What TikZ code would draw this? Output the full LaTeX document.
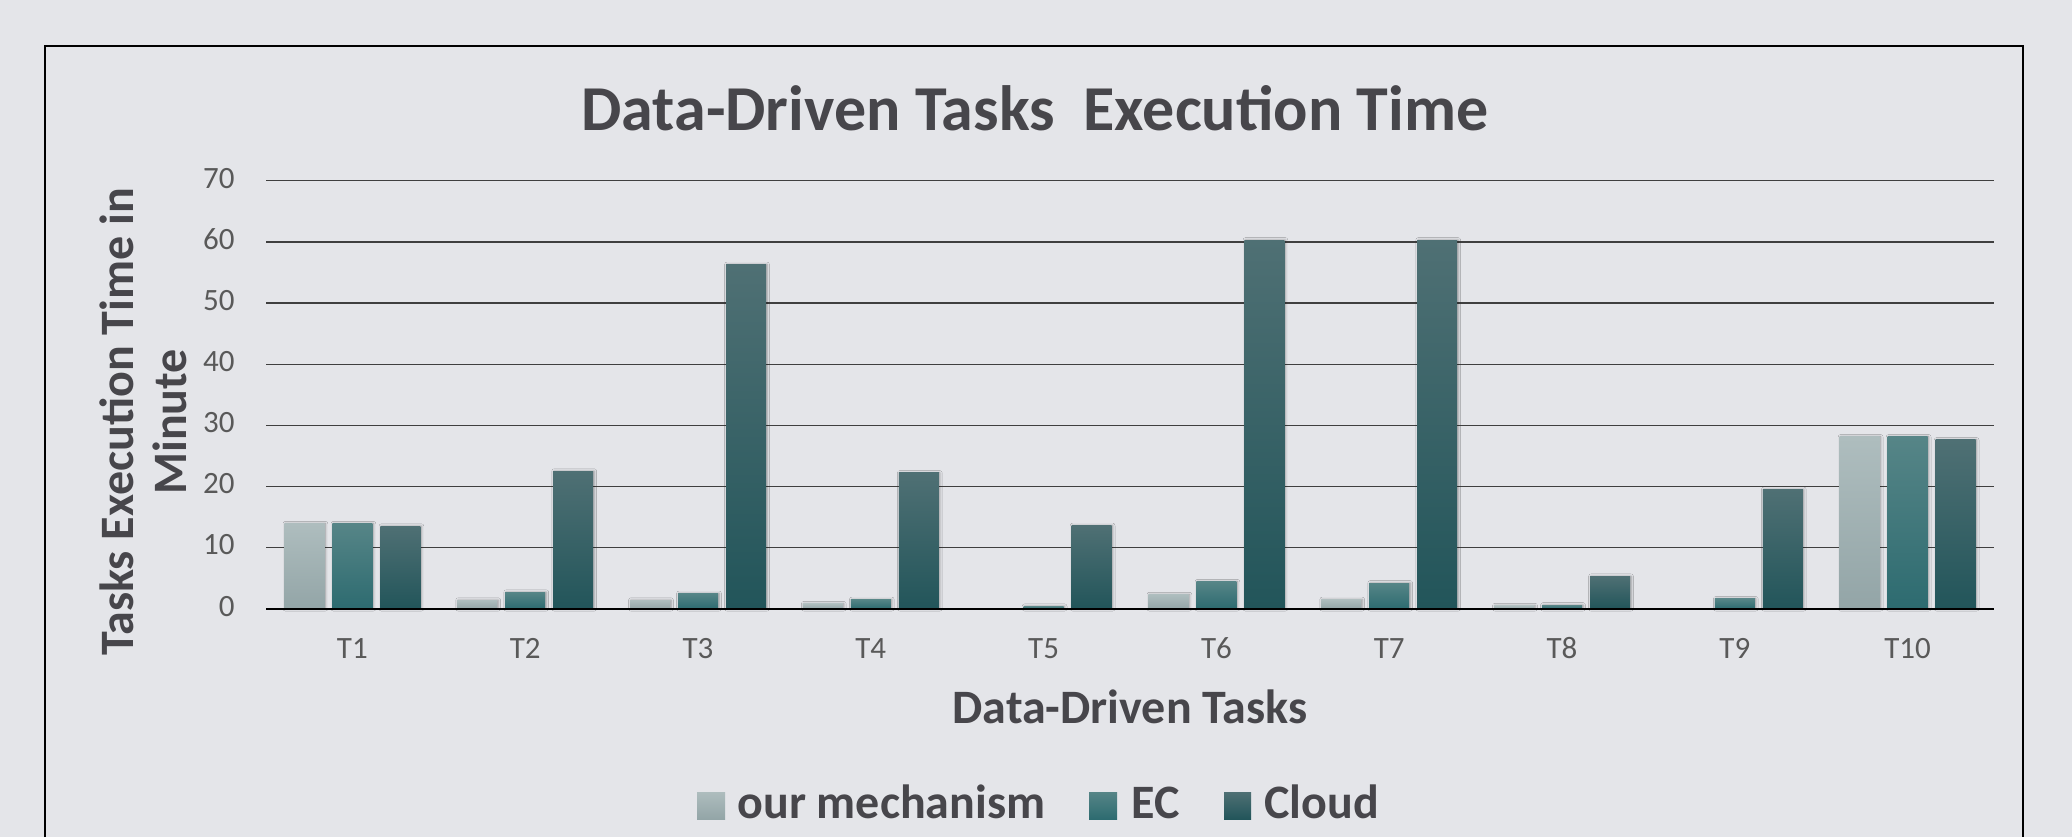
\documentclass[tikz,border=0pt]{standalone}
\usepackage{fontspec}
\setmainfont{Carlito}
\usetikzlibrary{shadows.blur}
\definecolor{fundo}{HTML}{E4E5E9}
\definecolor{textoesc}{HTML}{47464B}
\definecolor{textocinza}{HTML}{595959}
\definecolor{grade}{HTML}{3F3F3F}
\definecolor{mecA}{HTML}{AEBDBE}
\definecolor{mecB}{HTML}{93A5A7}
\definecolor{ecA}{HTML}{568587}
\definecolor{ecB}{HTML}{2D6B70}
\definecolor{nuvA}{HTML}{4F7074}
\definecolor{nuvB}{HTML}{22555A}

\begin{document}
\begin{tikzpicture}[
    x=0.5pt, y=-0.5pt,
    % Textos
    titulo/.style={font=\fontsize{32}{36}\selectfont\bfseries, text=textoesc},
    eixo/.style={font=\fontsize{24}{26.5}\selectfont\bfseries, text=textoesc, align=center},
    rotuloy/.style={font=\fontsize{15.5}{18}\selectfont, text=textocinza, anchor=base east, inner sep=0pt},
    rotulox/.style={font=\fontsize{15.5}{18}\selectfont, text=textocinza, anchor=base, inner sep=0pt},
    legtexto/.style={font=\fontsize{24}{28}\selectfont\bfseries, text=textoesc, anchor=base west, inner sep=0pt},
    % Barras
    sombra/.style={blur shadow={shadow xshift=0.5pt, shadow yshift=0pt, shadow blur radius=1.2pt, shadow opacity=35}},
    barmec/.style={sombra, top color=mecA, bottom color=mecB},
    barec/.style={sombra, top color=ecA, bottom color=ecB},
    barnuv/.style={sombra, top color=nuvA, bottom color=nuvB},
    legmec/.style={top color=mecA, bottom color=mecB},
    legec/.style={top color=ecA, bottom color=ecB},
    legnuv/.style={top color=nuvA, bottom color=nuvB},
    linhagrade/.style={draw=grade, line width=1.3pt/2},
    linhazero/.style={draw=black, line width=2.4pt/2}
]

% ---- FUNDO E MOLDURA ----
\fill[fundo] (0,0) rectangle (2072,837);
\useasboundingbox (0,0) rectangle (2072,837);
\draw[black, line width=1pt] (45,837) -- (45,46) -- (2023,46) -- (2023,837);

% ---- TITULO ----
\node[titulo] (tit) at (1035,108) {Data-Driven Tasks\ \ Execution Time};

% ---- GRADE E EIXO Y ----
\foreach \v in {10,20,...,70}
  \draw[linhagrade] (266,{608.7-6.114*\v}) -- (1994,{608.7-6.114*\v});
\foreach \v in {0,10,...,70}
  \node[rotuloy] (ty\v) at (235,{616-6.114*\v}) {\v};

\node[eixo, rotate=90] (eixoy) at (143,422) {Tasks Execution Time in\\Minute};

% ---- BARRAS ----
\foreach \tarefa/\va/\vb/\vc [count=\i] in {
    T1/13.9/13.9/13.5, T2/1.4/2.7/22.5, T3/1.4/2.5/56.3,
    T4/0.8/1.5/22.2, T5/0/0.4/13.6, T6/2.3/4.4/60.3,
    T7/1.5/4.2/60.3, T8/0.5/0.6/5.3, T9/0/1.6/19.5,
    T10/28.1/28.1/27.6} {
  \pgfmathsetmacro{\cx}{266+172.8*(\i-0.5)}
  \ifdim\va pt>0pt
    \shade[barmec] (\cx-68,608.7) rectangle (\cx-28,{608.7-6.114*\va});
  \fi
  \shade[barec]  (\cx-20,608.7) rectangle (\cx+20,{608.7-6.114*\vb});
  \shade[barnuv] (\cx+28,608.7) rectangle (\cx+68,{608.7-6.114*\vc});
  \node[rotulox] (tx\i) at (\cx,658) {\tarefa};
}

\draw[linhazero] (266,608.7) -- (1994,608.7);

\node[eixo] (eixox) at (1130,707) {Data-Driven Tasks};

% ---- LEGENDA ----
\shade[legmec] (697,792) rectangle (725,819);
\node[legtexto] (leg1) at (737,818.5) {our mechanism};
\shade[legec] (1089,792) rectangle (1117,819);
\node[legtexto] (leg2) at (1131,818.5) {EC};
\shade[legnuv] (1224,792) rectangle (1251,819);
\node[legtexto] (leg3) at (1264,818.5) {Cloud};

\end{tikzpicture}
\end{document}
